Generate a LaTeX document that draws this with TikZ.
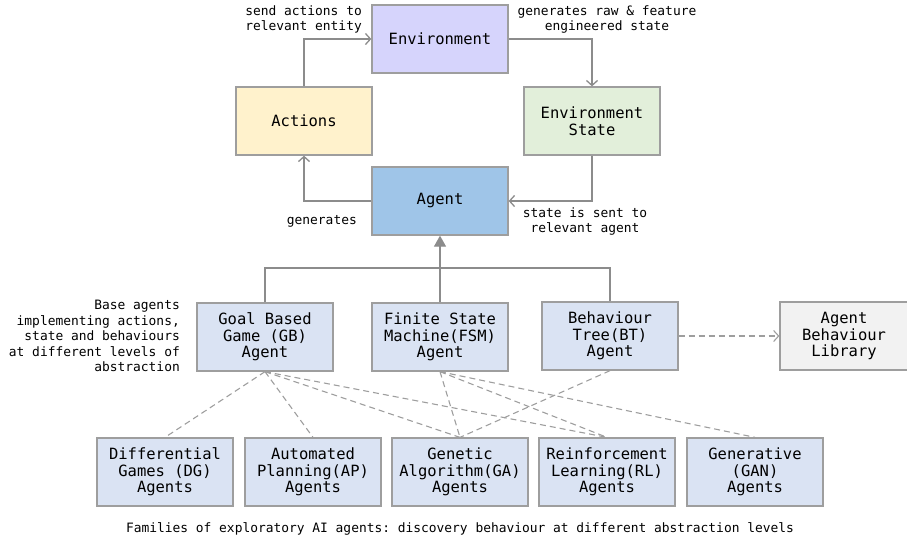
\documentclass[tikz,border=0pt]{standalone}
\usepackage{fontspec}
\setmonofont{DejaVu Sans Mono}
\usetikzlibrary{arrows.meta}
\definecolor{boxline}{HTML}{9E9E9E}
\definecolor{linegray}{HTML}{8C8C8C}
\definecolor{envfill}{HTML}{D6D4FC}
\definecolor{actfill}{HTML}{FFF2CC}
\definecolor{statefill}{HTML}{E2EFDA}
\definecolor{agentfill}{HTML}{9FC5E8}
\definecolor{basefill}{HTML}{DAE3F3}
\definecolor{libfill}{HTML}{F2F2F2}
\begin{document}
\begin{tikzpicture}[x=1pt,y=-1pt,
  box/.style={draw=boxline, line width=1.3pt, minimum width=136pt, minimum height=68pt, inner sep=0pt, align=center, font=\ttfamily\fontsize{15.5}{16.5}\selectfont},
  lbl/.style={font=\ttfamily\fontsize{12.9}{15}\selectfont, inner sep=0pt},
  conn/.style={draw=linegray, line width=1.3pt, -{Straight Barb[length=5pt,width=11pt]}},
  plain/.style={draw=linegray, line width=1.3pt},
  inh/.style={draw=linegray, line width=1.3pt, -{Triangle[length=11pt,width=12pt]}, color=linegray},
  dashline/.style={draw=boxline, line width=1.1pt, dash pattern=on 6pt off 4pt}
]
\useasboundingbox (0,0) rectangle (907,542);
% top cycle
\node[box, fill=envfill] (env) at (440,39) {Environment};
\node[box, fill=actfill] (act) at (304,121) {Actions};
\node[box, fill=statefill] (state) at (592,121) {Environment\\State};
\node[box, fill=agentfill] (agent) at (440,201) {Agent};
% base agents
\node[box, fill=basefill] (gb) at (265,337) {Goal Based\\Game (GB)\\Agent};
\node[box, fill=basefill] (fsm) at (440,337) {Finite State\\Machine(FSM)\\Agent};
\node[box, fill=basefill] (bt) at (610,336) {Behaviour\\Tree(BT)\\Agent};
\node[box, fill=libfill, minimum width=128pt] (lib) at (844,336) {Agent\\Behaviour\\Library};
% families
\node[box, fill=basefill] (dg) at (165,472) {Differential\\Games (DG)\\Agents};
\node[box, fill=basefill] (ap) at (313,472) {Automated\\Planning(AP)\\Agents};
\node[box, fill=basefill] (ga) at (460,472) {Genetic\\Algorithm(GA)\\Agents};
\node[box, fill=basefill] (rl) at (607,472) {Reinforcement\\Learning(RL)\\Agents};
\node[box, fill=basefill] (gan) at (755,472) {Generative\\(GAN)\\Agents};
% labels
\node[lbl, align=right, anchor=east] (l1) at (362,19) {send actions to\\relevant entity};
\node[lbl, align=center] (l2) at (607,19) {generates raw \& feature\\engineered state};
\node[lbl, anchor=east] (l3) at (357,221) {generates};
\node[lbl, align=center] (l4) at (585,221) {state is sent to\\relevant agent};
\node[lbl, align=right, anchor=east, font=\ttfamily\fontsize{12.9}{15.5}\selectfont] (l5) at (180,336) {Base agents\\implementing actions,\\state and behaviours\\at different levels of\\abstraction};
\node[lbl] (cap) at (460,529) {Families of exploratory AI agents: discovery behaviour at different abstraction levels};
% cycle connectors
\draw[conn] (act.north) |- (env.west);
\draw[conn] (env.east) -| (state.north);
\draw[conn] (state.south) |- (agent.east);
\draw[conn] (agent.west) -| (act.south);
% inheritance
\coordinate (hb) at (440,268);
\draw[plain] (gb.north) |- (hb) -| (bt.north);
\draw[inh] (fsm.north) -- (agent.south);
% library
\draw[dashline, -{Straight Barb[length=5pt,width=11pt]}] (bt.east) -- (lib.west);
% family links
\draw[dashline] (gb.south) -- (dg.north);
\draw[dashline] (gb.south) -- (ap.north);
\draw[dashline] (gb.south) -- (ga.north);
\draw[dashline] (gb.south) -- (rl.north);
\draw[dashline] (fsm.south) -- (ga.north);
\draw[dashline] (fsm.south) -- (rl.north);
\draw[dashline] (fsm.south) -- (gan.north);
\draw[dashline] (bt.south) -- (ga.north);
\end{tikzpicture}
\end{document}
